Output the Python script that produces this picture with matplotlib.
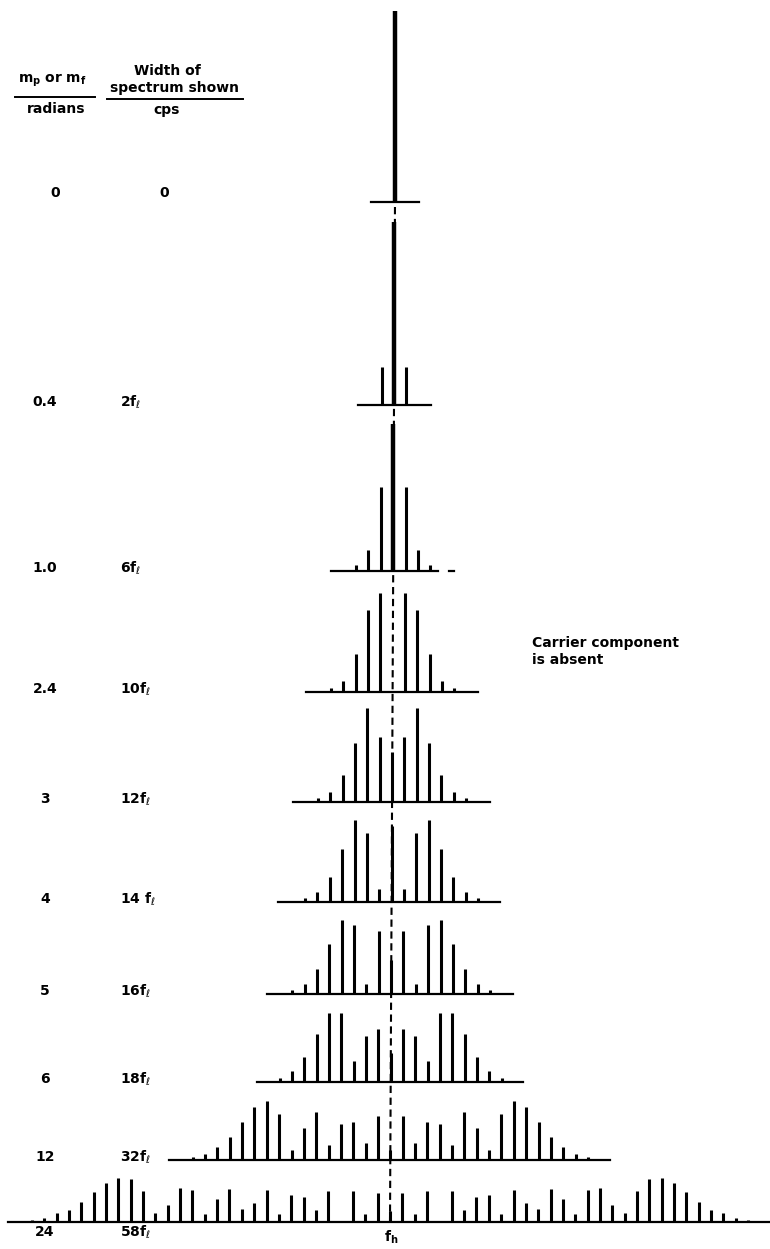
import matplotlib
matplotlib.use("Agg")
import matplotlib.pyplot as plt
import numpy as np

# modulation index of each row (top to bottom) and the spectrum width shown
M_LABELS = ["0", "0.4", "1.0", "2.4", "3", "4", "5", "6", "12", "24"]
WIDTH_LABELS = ["0", r"2f$_\ell$", r"6f$_\ell$", r"10f$_\ell$", r"12f$_\ell$",
                r"14 f$_\ell$", r"16f$_\ell$", r"18f$_\ell$", r"32f$_\ell$", r"58f$_\ell$"]

# relative amplitude of carrier (n=0) and sidebands n=1,2,...
AMP_M0 = [1.00]
AMP_M04 = [0.96, 0.20]
AMP_M1 = [0.77, 0.44, 0.11, 0.03]
AMP_M2_4 = [0.00, 0.52, 0.43, 0.20, 0.06, 0.02]
AMP_M3 = [0.26, 0.34, 0.49, 0.31, 0.14, 0.05, 0.02]
AMP_M4 = [0.40, 0.07, 0.36, 0.43, 0.28, 0.13, 0.05, 0.02]
AMP_M5 = [0.18, 0.33, 0.05, 0.36, 0.39, 0.26, 0.13, 0.05, 0.02]
AMP_M6 = [0.15, 0.28, 0.24, 0.11, 0.36, 0.36, 0.25, 0.13, 0.06, 0.02]
AMP_M12 = [0.05, 0.23, 0.09, 0.20, 0.19, 0.08, 0.25, 0.17, 0.05, 0.24, 0.31,
           0.28, 0.20, 0.12, 0.07, 0.03, 0.015]
AMP_M24 = [0.06, 0.15, 0.04, 0.16, 0.00, 0.16, 0.065, 0.13, 0.14, 0.04, 0.17,
           0.10, 0.07, 0.175, 0.12, 0.04, 0.165, 0.18, 0.09, 0.045, 0.16, 0.225,
           0.23, 0.205, 0.155, 0.105, 0.065, 0.045, 0.02, 0.01]
ROW_AMPS = [AMP_M0, AMP_M04, AMP_M1, AMP_M2_4, AMP_M3, AMP_M4, AMP_M5, AMP_M6,
            AMP_M12, AMP_M24]

# layout (pixel units, y down)
W, H = 770, 1249
BASELINE_Y = [202, 405, 571, 692, 802, 902, 994, 1082, 1160, 1222]
BASE_LEFT = [371, 358, 331, 306, 293, 278, 267, 257, 169, 8]
BASE_RIGHT = [419, 431, 438, 478, 490, 500, 513, 523, 610, 770]
LABEL_Y = [193, 402, 568, 689, 799, 899, 991, 1079, 1157, 1232]
SCALE = 191.0
SPACING = 12.35


def center_x(y):
    # the original drawing leans very slightly
    return 395 - 5 * (y - 202) / 1020


fig = plt.figure(figsize=(W / 100, H / 100), dpi=100)
ax = fig.add_axes([0, 0, 1, 1])
ax.set_xlim(0, W)
ax.set_ylim(H, 0)
ax.axis("off")

txt = dict(fontsize=10, fontweight="bold", family="DejaVu Sans", color="black")

# dashed reference line at the carrier frequency
ax.plot([center_x(207), center_x(1222)], [207, 1222], color="black", lw=1.5,
        linestyle=(0, (3.5, 2.2)), zorder=1)

for i, amps in enumerate(ROW_AMPS):
    base = BASELINE_Y[i]
    cx = center_x(base)
    amps = np.asarray(amps)
    n = np.arange(len(amps))
    full_n = np.concatenate([-n[:0:-1], n])
    full_a = np.concatenate([amps[:0:-1], amps])
    keep = full_a > 0
    xs = cx + full_n[keep] * SPACING
    lw = 3.2 if i < 3 else 2.2
    widths = np.where(full_n[keep] == 0, lw, 2.2)
    for x, a, w in zip(xs, full_a[keep], widths):
        ax.vlines(x, base, base - a * SCALE, color="black", lw=w, zorder=3)
    ax.plot([BASE_LEFT[i], BASE_RIGHT[i]], [base, base], color="black", lw=1.6, zorder=2)

    ax.text(45 if i else 55, LABEL_Y[i], M_LABELS[i], ha="center", va="center", **txt)
    ax.text(120 if i else 164, LABEL_Y[i], WIDTH_LABELS[i],
            ha="left" if i else "center", va="center", **txt)

# stray dash right of the m=1.0 baseline
ax.plot([449, 454], [BASELINE_Y[2], BASELINE_Y[2]], color="black", lw=1.6)

# column headers
ax.text(52, 80, r"m$_\mathregular{p}$ or m$_\mathregular{f}$", ha="center", va="center", **txt)
ax.plot([15, 95], [97, 97], color="black", lw=1.4)
ax.text(56, 109, "radians", ha="center", va="center", **txt)
ax.text(167, 71, "Width of", ha="center", va="center", **txt)
ax.text(175, 88, "spectrum shown", ha="center", va="center", **txt)
ax.plot([107, 243], [99, 99], color="black", lw=1.4)
ax.text(167, 110, "cps", ha="center", va="center", **txt)

ax.text(532, 643, "Carrier component", ha="left", va="center", **txt)
ax.text(532, 660, "is absent", ha="left", va="center", **txt)

ax.text(391, 1237, r"f$_\mathregular{h}$", ha="center", va="center", **txt)

fig.savefig("out.png", dpi=100)
